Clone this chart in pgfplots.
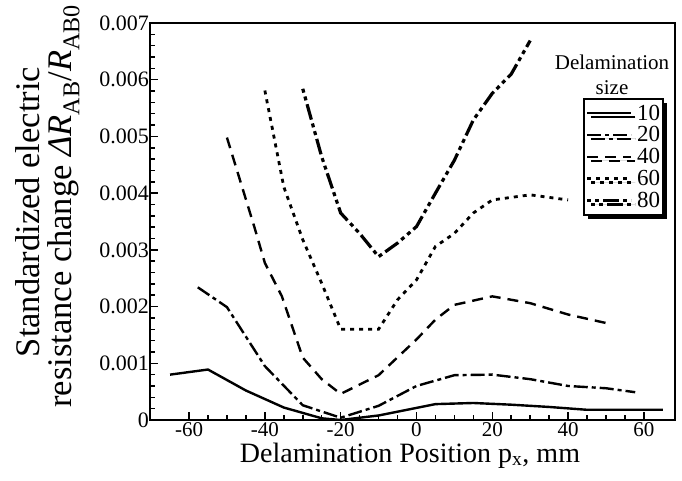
\documentclass[border=0pt]{standalone}
\usepackage{fontspec}
\setmainfont{Liberation Serif}
\usepackage{pgfplots}
\pgfplotsset{compat=1.18}
\usetikzlibrary{shadows}

\begin{document}
\begin{tikzpicture}
\begin{axis}[
  at={(0pt,0pt)}, anchor=south west,
  scale only axis, width=525pt, height=397pt,
  xmin=-70.3, xmax=68.2, ymin=0, ymax=0.007,
  scaled y ticks=false,
  xtick={-60,-40,-20,0,20,40,60},
  xticklabels={-60,-40,-20,0,20,40,60},
  ytick={0,0.001,0.002,0.003,0.004,0.005,0.006,0.007},
  yticklabels={0,0.001,0.002,0.003,0.004,0.005,0.006,0.007},
  minor x tick num=3, minor y tick num=4,
  xtick pos=bottom, ytick pos=left,
  tick align=inside,
  major tick length=8pt, minor tick length=5pt,
  tick style={line width=1.5pt, black},
  axis line style={line width=2.5pt},
  xticklabel style={font=\fontsize{21}{21}\selectfont, inner sep=2pt},
  yticklabel style={font=\fontsize{22}{22}\selectfont, inner sep=1pt},
  legend style={at={(rel axis cs:0.825,0.811)}, anchor=north west,
    draw=black, line width=1.5pt, fill=white,
    drop shadow={shadow xshift=4pt, shadow yshift=-4pt, fill=black, opacity=1},
    font=\fontsize{23}{23}\selectfont, inner xsep=2pt, inner ysep=5pt,
    row sep=3pt, column sep=3pt,
    nodes={inner sep=1pt, anchor=west}},
  legend cell align=left,
  legend image code/.code={\draw[#1] (0pt,0pt) -- (44pt,0pt);},
]
% size 10
\addplot[black, line width=2.4pt] coordinates {
  (-65,0.00080)(-55,0.00089)(-45,0.00052)(-35,0.00022)(-25,0.00003)(-20,0.0)
  (-10,0.00008)(5,0.00028)(15,0.00030)(25,0.00027)(35,0.00023)(45,0.00018)(55,0.00018)(65,0.00018)
}; \addlegendentry{10}
% size 20
\addplot[black, line width=2.4pt, dash pattern=on 14pt off 4pt on 4pt off 4pt] coordinates {
  (-57.7,0.00234)(-50,0.00199)(-40,0.00095)(-30,0.00026)(-20,0.00004)
  (-10,0.00025)(0,0.00060)(10,0.00079)(20,0.00080)(30,0.00072)(40,0.00060)(50,0.00056)(57.7,0.00049)
}; \addlegendentry{20}
% size 40
\addplot[black, line width=2.4pt, dash pattern=on 11pt off 7pt] coordinates {
  (-50,0.00498)(-42.8,0.00341)(-40,0.00277)(-35.5,0.00218)(-30,0.00110)(-25,0.00072)(-20,0.00046)
  (-10,0.00079)(0,0.00142)(5,0.00177)(10,0.00203)(20,0.00218)(30,0.00206)(40,0.00186)(50,0.00171)
}; \addlegendentry{40}
% size 60
\addplot[black, line width=2.8pt, dash pattern=on 4pt off 5pt] coordinates {
  (-40,0.00581)(-35,0.00411)(-30,0.00318)(-25,0.00241)(-20,0.00160)
  (-10,0.00160)(-5,0.00212)(0,0.00247)(5,0.00306)(10,0.00329)(15,0.00365)(20,0.00388)(30,0.00397)(40,0.00388)
}; \addlegendentry{60}
% size 80
\addplot[black, line width=3.2pt, dash pattern=on 4pt off 4pt on 4pt off 4pt on 16pt off 4pt] coordinates {
  (-30,0.00584)(-25,0.00464)(-20,0.00365)(-15,0.00329)(-10,0.00288)(-5,0.00312)(0,0.00341)
  (5,0.00400)(10,0.00458)(15,0.00529)(20,0.00576)(25,0.00610)(30,0.00669)
}; \addlegendentry{80}
\node[font=\fontsize{21}{21}\selectfont] at (rel axis cs:0.88,0.902) {Delamination};
\node[font=\fontsize{21}{21}\selectfont] at (rel axis cs:0.88,0.836) {size};
\end{axis}
\node[rotate=90, anchor=base, font=\fontsize{34.5}{34.5}\selectfont] at (-110pt,208pt)
  {Standardized electric};
\node[rotate=90, anchor=base, font=\fontsize{34.5}{34.5}\selectfont] at (-78pt,214pt)
  {resistance change \textit{ΔR}\textsubscript{AB}/\textit{R}\textsubscript{AB0}};
\node[anchor=base, font=\fontsize{28}{28}\selectfont] at (260pt,-42pt)
  {Delamination Position p\textsubscript{x}, mm};
\path[use as bounding box] (-150pt,-60pt) rectangle (532pt,420pt);
\end{tikzpicture}
\end{document}
